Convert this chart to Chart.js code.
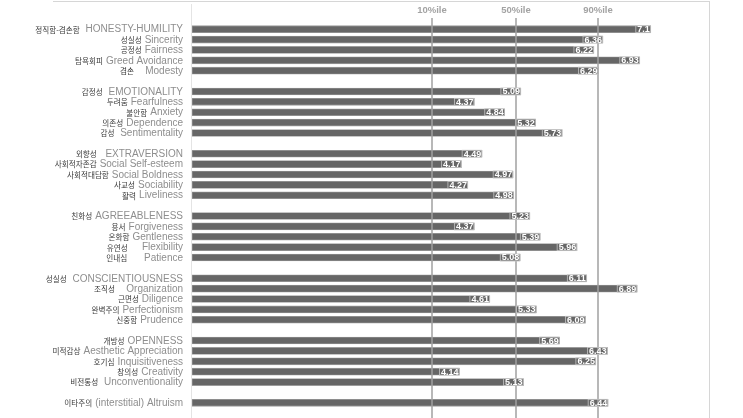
<!DOCTYPE html>
<html lang="ko">
<head>
<meta charset="UTF-8">
<title>HEXACO profile</title>
<script src="https://cdn.jsdelivr.net/npm/chart.js"></script>
<style>
  html, body { margin: 0; padding: 0; background: #fff; }
  #wrap { width: 743px; height: 418px; }
</style>
</head>
<body>
<div id="wrap"><canvas id="hexChart" width="743" height="418"></canvas></div>
<script>
// Korean + English facet names, empty strings are the spacer rows between factors
const labelsKo = [
  '정직함-겸손함', '성실성', '공정성', '탐욕회피', '겸손', '',
  '감정성', '두려움', '불안함', '의존성', '감성', '',
  '외향성', '사회적자존감', '사회적대담함', '사교성', '활력', '',
  '친화성', '용서', '온화함', '유연성', '인내심', '',
  '성실성', '조직성', '근면성', '완벽주의', '신중함', '',
  '개방성', '미적감상', '호기심', '창의성', '비전통성', '',
  '이타주의'
];
const labelsEn = [
  ' HONESTY-HUMILITY', 'Sincerity', 'Fairness', 'Greed Avoidance', '   Modesty', '',
  ' EMOTIONALITY', 'Fearfulness', 'Anxiety', 'Dependence', ' Sentimentality', '',
  '  EXTRAVERSION', 'Social Self-esteem', 'Social Boldness', 'Sociability', 'Liveliness', '',
  'AGREEABLENESS', 'Forgiveness', 'Gentleness', '    Flexibility', '     Patience', '',
  ' CONSCIENTIOUSNESS', '   Organization', 'Diligence', 'Perfectionism', 'Prudence', '',
  'OPENNESS', 'Aesthetic Appreciation', 'Inquisitiveness', 'Creativity', ' Unconventionality', '',
  '(interstitial) Altruism'
];
const scores = [
  7.1, 6.36, 6.22, 6.93, 6.29, null,
  5.09, 4.37, 4.84, 5.32, 5.73, null,
  4.49, 4.17, 4.97, 4.27, 4.98, null,
  5.23, 4.37, 5.39, 5.96, 5.08, null,
  6.11, 6.89, 4.61, 5.33, 6.09, null,
  5.69, 6.43, 6.25, 4.14, 5.13, null,
  6.44
];
const percentileNames = ['10%ile', '50%ile', '90%ile'];
const percentileValues = [3.72, 5.01, 6.29];

const decor = {
  id: 'decor',
  afterDatasetsDraw(chart) {
    const ctx = chart.ctx;
    const x = chart.scales.x;
    const y = chart.scales.y;
    const area = chart.chartArea;
    ctx.save();

    // light frame
    ctx.strokeStyle = '#d6d6d6';
    ctx.lineWidth = 1;
    ctx.beginPath();
    ctx.moveTo(53, 1.5); ctx.lineTo(area.right, 1.5);
    ctx.moveTo(area.right + 0.5, 1); ctx.lineTo(area.right + 0.5, chart.height);
    ctx.stroke();
    ctx.strokeStyle = '#e4e4e4';
    ctx.beginPath();
    ctx.moveTo(area.left - 0.5, 4); ctx.lineTo(area.left - 0.5, chart.height);
    ctx.stroke();

    // percentile reference lines
    ctx.strokeStyle = '#a0a0a0';
    ctx.lineWidth = 1.5;
    ctx.fillStyle = '#a3a3a3';
    ctx.font = 'bold 9.5px "Liberation Sans", Arial, sans-serif';
    ctx.textAlign = 'center';
    ctx.textBaseline = 'middle';
    percentileValues.forEach((v, i) => {
      const px = Math.round(x.getPixelForValue(v));
      ctx.beginPath();
      ctx.moveTo(px, 18);
      ctx.lineTo(px, chart.height);
      ctx.stroke();
      ctx.fillText(percentileNames[i], px, 10);
    });

    // value labels at bar ends
    const meta = chart.getDatasetMeta(0);
    ctx.font = 'bold 9px "Liberation Sans", Arial, sans-serif';
    ctx.textAlign = 'right';
    meta.data.forEach((bar, i) => {
      if (scores[i] == null) return;
      const txt = String(scores[i]);
      const w = ctx.measureText(txt).width;
      ctx.strokeStyle = '#c4c4c4';
      ctx.lineWidth = 0.8;
      ctx.strokeRect(bar.x - w - 2.5, bar.y - 3.5, w + 2, 7);
      ctx.fillStyle = '#ffffff';
      ctx.fillText(txt, bar.x - 1, bar.y + 0.5);
    });

    // two-colour category labels on the left
    ctx.textBaseline = 'middle';
    ctx.textAlign = 'left';
    const rightEdge = area.left - 9;
    labelsKo.forEach((ko, i) => {
      if (!ko) return;
      const cy = y.getPixelForValue(i);
      ctx.font = '10px "Liberation Sans", Arial, sans-serif';
      const enW = ctx.measureText(labelsEn[i]).width;
      ctx.fillStyle = '#8e8e8e';
      ctx.fillText(labelsEn[i], rightEdge - enW, cy + 0.5);
      ctx.font = '7.6px "Noto Sans CJK KR", sans-serif';
      const koW = ctx.measureText(ko).width;
      ctx.fillStyle = '#3a3a3a';
      ctx.fillText(ko, rightEdge - enW - 3 - koW, cy + 0.5);
    });

    ctx.restore();
  }
};

new Chart(document.getElementById('hexChart'), {
  type: 'bar',
  data: {
    labels: labelsKo.map((ko, i) => ko ? ko + ' ' + labelsEn[i].trim() : ''),
    datasets: [{
      data: scores,
      backgroundColor: '#666666',
      borderColor: '#9c9c9c',
      borderWidth: 0.8,
      borderSkipped: false,
      barThickness: 7
    }]
  },
  options: {
    indexAxis: 'y',
    responsive: false,
    animation: false,
    layout: { padding: { left: 192, right: 34, top: 24, bottom: 10 } },
    scales: {
      x: { min: 0, max: 8, display: false },
      y: { display: false }
    },
    plugins: {
      legend: { display: false },
      tooltip: { enabled: false }
    }
  },
  plugins: [decor]
});
</script>
</body>
</html>
